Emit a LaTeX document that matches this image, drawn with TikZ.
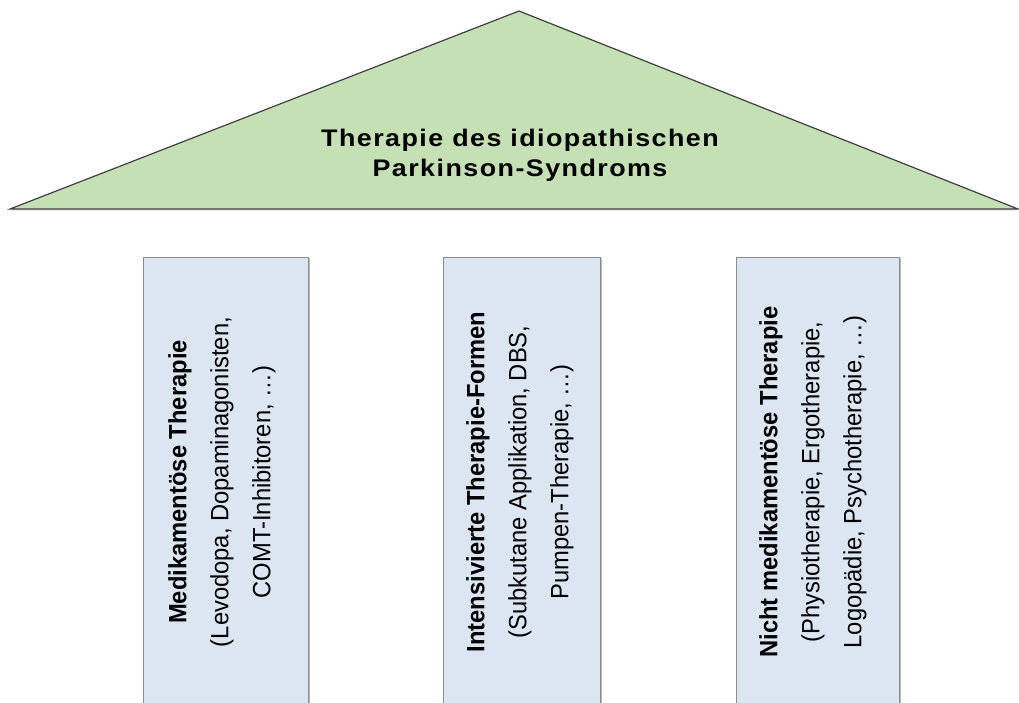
\documentclass[tikz,border=0pt]{standalone}
\usepackage{fontspec}
\setmainfont{Liberation Sans}
\newfontfamily\roofFont{Liberation Sans}[FakeStretch=1.12, LetterSpace=6]
\newfontfamily\pillarFont{Liberation Sans}[FakeStretch=0.95]
\usetikzlibrary{shadows}
\definecolor{roofGreen}{HTML}{C5E0B4}
\definecolor{pillarBlue}{HTML}{DCE6F2}

\begin{document}
\begin{tikzpicture}[x=1pt, y=-1pt]
    \clip (0,0) rectangle (1019,702);

    \tikzset{RoofStyle/.style={fill=roofGreen, draw=black!75, line width=1.2pt,
        drop shadow={shadow xshift=0pt, shadow yshift=-1.5pt, fill=black!25}}}
    \tikzset{RoofText/.style={font=\roofFont\fontsize{24}{30}\selectfont\bfseries,
        align=center, inner sep=0pt}}
    \coordinate (eaveL) at (10,209);
    \coordinate (ridge) at (519,11);
    \coordinate (eaveR) at (1018,209);
    \draw[RoofStyle] (eaveL) -- (ridge) -- (eaveR) -- cycle;
    \node[RoofText] (roof) at (520,155) {Therapie des idiopathischen\\Parkinson-Syndroms};

    \tikzset{PillarStyle/.style={fill=pillarBlue, draw=black!45, line width=1pt,
        anchor=north west, minimum height=450pt, inner sep=0pt,
        drop shadow={shadow xshift=1.5pt, shadow yshift=0pt, fill=black!55}}}
    \node[PillarStyle, minimum width=165pt] (med) at (143,257) {};
    \node[PillarStyle, minimum width=157pt] (int) at (443,257) {};
    \node[PillarStyle, minimum width=163pt] (nmed) at (736,257) {};

    \tikzset{PillarText/.style={font=\pillarFont\fontsize{25}{42}\selectfont,
        align=center, inner sep=0pt, rotate=90}}
    \node[PillarText] (medText) at (222,482)
        {\textbf{Medikamentöse Therapie}\\(Levodopa, Dopaminagonisten,\\COMT-Inhibitoren, …)};
    \node[PillarText] (intText) at (520,482)
        {\textbf{Intensivierte Therapie-Formen}\\(Subkutane Applikation, DBS,\\Pumpen-Therapie, …)};
    \node[PillarText] (nmedText) at (813,482)
        {\textbf{Nicht medikamentöse Therapie}\\(Physiotherapie, Ergotherapie,\\Logopädie, Psychotherapie, …)};
\end{tikzpicture}
\end{document}
